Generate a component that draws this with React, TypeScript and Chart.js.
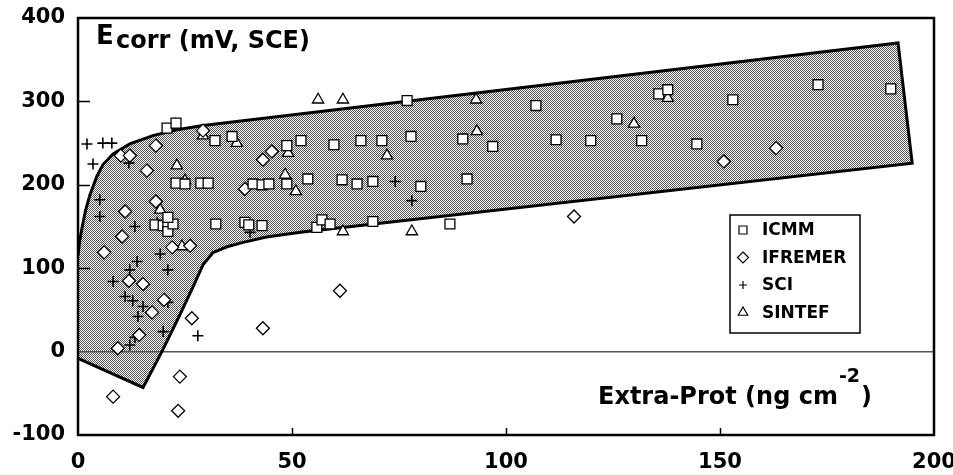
import React, { useEffect, useRef } from 'react';
import { Chart, registerables } from 'chart.js';
Chart.register(...registerables);

const FONT = '"DejaVu Sans", "Liberation Sans", sans-serif';

// Axis ticks
const xTickValues = [0, 50, 100, 150, 200];
const yTickValues = [-100, 0, 100, 200, 300, 400];
const xInnerTicks = [50, 100, 150];
const yInnerTicks = [100, 200, 300];

// Series labels
const seriesLabels = ['ICMM', 'IFREMER', 'SCI', 'SINTEF'];

// ICMM (squares)
const icmmX = [20.8, 22.9, 22.9, 25.0, 28.7, 30.4, 32.0, 36.0, 40.9, 43.0, 44.6, 48.8, 48.8, 52.1, 53.7, 59.8, 61.7, 65.2, 66.1, 68.9, 71.0, 76.9, 77.8, 80.1, 89.9, 90.9, 96.9, 107.0, 111.7, 119.8, 125.9, 131.7, 135.7, 137.8, 144.6, 153.0, 172.9, 189.9, 18.0, 19.9, 21.0, 21.0, 22.2, 21.0, 32.2, 39.0, 39.9, 43.0, 55.8, 57.0, 58.9, 68.9, 86.9];
const icmmY = [268, 274, 202, 201, 202, 202, 253, 258, 201, 200, 201, 247, 201, 253, 207, 248, 206, 201, 253, 204, 253, 301, 258, 198, 255, 207, 246, 295, 254, 253, 279, 253, 309, 314, 249, 302, 320, 315, 152, 151, 152, 144, 153, 161, 153, 155, 152, 151, 149, 158, 153, 156, 153];

// IFREMER (diamonds)
const ifremerX = [10.0, 12.1, 18.2, 16.1, 29.2, 43.2, 45.3, 39.0, 18.2, 11.0, 10.3, 6.1, 22.0, 26.2, 11.9, 15.2, 20.1, 17.3, 14.3, 9.3, 26.6, 43.2, 23.8, 8.2, 23.4, 61.2, 115.9, 150.9, 163.1];
const ifremerY = [235, 235, 247, 217, 265, 230, 240, 195, 180, 168, 138, 119, 125, 127, 85, 81, 62, 47, 20, 4, 40, 28, -30, -54, -71, 73, 162, 228, 244];

// SCI (plus)
const sciX = [2.1, 5.8, 7.9, 3.5, 11.9, 5.1, 5.1, 11.0, 13.3, 18.5, 40.2, 19.2, 13.8, 12.1, 21.0, 8.2, 11.0, 12.8, 15.2, 14.0, 21.0, 19.9, 13.3, 12.1, 9.3, 28.0, 74.1, 78.0];
const sciY = [249, 250, 250, 225, 226, 182, 162, 168, 150, 155, 143, 117, 108, 98, 98, 84, 66, 61, 54, 42, 59, 24, 17, 8, 4, 19, 204, 181];

// SINTEF (triangles)
const sintefX = [22.7, 23.1, 25.0, 29.2, 37.1, 19.2, 24.3, 49.1, 48.4, 50.9, 56.1, 61.9, 72.2, 61.9, 78.0, 93.0, 93.2, 129.9, 137.8];
const sintefY = [272, 223, 205, 259, 250, 170, 126, 238, 212, 192, 302, 302, 235, 144, 144, 302, 264, 273, 304];

// Shaded band outline: upper edge (left to right), then lower edge (right to left)
const bandUpperX = [0, 0.4, 1, 1.8, 2.8, 4.4, 5.8, 8.2, 12.1, 17.5, 23.1, 29.2, 191.6];
const bandUpperY = [115, 133, 150, 170, 188, 210, 224, 237, 249, 259, 266, 271, 370];
const bandLowerX = [194.9, 52, 44, 38.6, 34.8, 31.5, 29.2, 26.9, 23.8, 19.6, 15.2, 0];
const bandLowerY = [226, 143, 137.5, 131, 125.7, 118.6, 104, 78, 44, 0, -43, -8];

const zip = (xs: number[], ys: number[]) => xs.map((x, i) => ({ x, y: ys[i] }));

const legendStyles = ['rect', 'rectRot', 'cross', 'triangle'];

function drawSymbol(ctx: CanvasRenderingContext2D, style: string, cx: number, cy: number) {
  ctx.save();
  ctx.fillStyle = '#fff';
  ctx.strokeStyle = '#000';
  ctx.lineWidth = 1.2;
  ctx.beginPath();
  if (style === 'rect') {
    ctx.rect(cx - 4, cy - 4, 8, 8);
    ctx.fill();
    ctx.stroke();
  } else if (style === 'rectRot') {
    const r = 5.5;
    ctx.moveTo(cx, cy - r);
    ctx.lineTo(cx + r, cy);
    ctx.lineTo(cx, cy + r);
    ctx.lineTo(cx - r, cy);
    ctx.closePath();
    ctx.fill();
    ctx.stroke();
  } else if (style === 'cross') {
    ctx.moveTo(cx - 4, cy);
    ctx.lineTo(cx + 4, cy);
    ctx.moveTo(cx, cy - 4);
    ctx.lineTo(cx, cy + 4);
    ctx.stroke();
  } else {
    const r = 5.5;
    ctx.moveTo(cx, cy - r);
    ctx.lineTo(cx + r * 0.866, cy + r * 0.5);
    ctx.lineTo(cx - r * 0.866, cy + r * 0.5);
    ctx.closePath();
    ctx.fill();
    ctx.stroke();
  }
  ctx.restore();
}

const overlayPlugin = {
  id: 'overlay',
  afterDraw(chart: any) {
    const { ctx, chartArea: a, scales } = chart;
    const xs = scales.x;
    const ys = scales.y;
    ctx.save();
    // inner tick marks
    ctx.strokeStyle = '#000';
    ctx.lineWidth = 1.5;
    ctx.beginPath();
    for (const v of yInnerTicks) {
      const py = Math.round(ys.getPixelForValue(v)) + 0.5;
      ctx.moveTo(a.left, py);
      ctx.lineTo(a.left + 12, py);
    }
    for (const v of xInnerTicks) {
      const px = Math.round(xs.getPixelForValue(v)) + 0.5;
      ctx.moveTo(px, a.bottom);
      ctx.lineTo(px, a.bottom - 7);
    }
    ctx.stroke();
    // frame
    ctx.lineWidth = 2.5;
    ctx.strokeRect(a.left, a.top, a.right - a.left, a.bottom - a.top);

    // y title inside plot
    ctx.fillStyle = '#000';
    ctx.textAlign = 'left';
    ctx.textBaseline = 'alphabetic';
    ctx.font = `bold 26px ${FONT}`;
    ctx.fillText('E', a.left + 18, a.top + 26);
    ctx.font = `bold 24px ${FONT}`;
    ctx.fillText('corr (mV, SCE)', a.left + 38, a.top + 30);

    // x title inside plot
    let tx = a.right - 336;
    const by = a.top + 386;
    const main = 'Extra-Prot (ng cm';
    ctx.font = `bold 24px ${FONT}`;
    ctx.fillText(main, tx, by);
    tx += ctx.measureText(main).width + 1;
    ctx.font = `bold 19px ${FONT}`;
    ctx.fillText('-2', tx, by - 22);
    tx += ctx.measureText('-2').width + 1;
    ctx.font = `bold 24px ${FONT}`;
    ctx.fillText(')', tx, by);

    // legend
    const lx = a.right - 204;
    const ly = a.top + 197;
    ctx.fillStyle = '#fff';
    ctx.fillRect(lx, ly, 130, 118);
    ctx.strokeStyle = '#000';
    ctx.lineWidth = 1.5;
    ctx.strokeRect(lx, ly, 130, 118);
    ctx.font = `bold 17px ${FONT}`;
    ctx.textBaseline = 'middle';
    seriesLabels.forEach((lab, i) => {
      const cy = ly + 15 + i * 27.5;
      drawSymbol(ctx, legendStyles[i], lx + 13, cy);
      ctx.fillStyle = '#000';
      ctx.fillText(lab, lx + 32, cy + 1);
    });
    ctx.restore();
  },
};

export default function App() {
  const canvasRef = useRef<HTMLCanvasElement | null>(null);

  useEffect(() => {
    const canvas = canvasRef.current;
    if (!canvas) return;
    const ctx = canvas.getContext('2d')!;

    const pc = document.createElement('canvas');
    pc.width = 2;
    pc.height = 2;
    const pctx = pc.getContext('2d')!;
    pctx.fillStyle = '#555';
    pctx.fillRect(0, 0, 1, 1);
    pctx.fillRect(1, 1, 1, 1);
    const pattern = ctx.createPattern(pc, 'repeat');

    const pointBase = {
      backgroundColor: '#fff',
      borderColor: '#000',
      borderWidth: 1.3,
      pointBackgroundColor: '#fff',
      pointBorderColor: '#000',
      pointBorderWidth: 1.3,
      order: 0,
    };

    const band = [...zip(bandUpperX, bandUpperY), ...zip(bandLowerX, bandLowerY)];

    const chart = new Chart(ctx, {
      type: 'scatter',
      data: {
        datasets: [
          { ...pointBase, label: seriesLabels[0], data: zip(icmmX, icmmY), pointStyle: 'rect', pointRadius: 7, pointHoverRadius: 7 },
          { ...pointBase, label: seriesLabels[1], data: zip(ifremerX, ifremerY), pointStyle: 'rectRot', pointRadius: 6.5, pointHoverRadius: 6.5 },
          { ...pointBase, label: seriesLabels[2], data: zip(sciX, sciY), pointStyle: 'cross', pointRadius: 5.5, pointHoverRadius: 5.5, pointBorderWidth: 1.6, borderWidth: 1.6 },
          { ...pointBase, label: seriesLabels[3], data: zip(sintefX, sintefY), pointStyle: 'triangle', pointRadius: 6.5, pointHoverRadius: 6.5 },
          {
            type: 'line',
            label: 'band',
            data: band,
            fill: 'shape',
            backgroundColor: pattern as any,
            borderColor: '#000',
            borderWidth: 3,
            pointRadius: 0,
            pointHoverRadius: 0,
            tension: 0,
            order: 10,
          } as any,
        ],
      },
      options: {
        animation: false,
        responsive: true,
        maintainAspectRatio: false,
        events: [],
        layout: { padding: { top: 18, right: 19, left: 0, bottom: 0 } },
        plugins: {
          legend: { display: false },
          tooltip: { enabled: false },
        },
        scales: {
          x: {
            type: 'linear',
            min: 0,
            max: 200,
            afterBuildTicks: (s: any) => { s.ticks = xTickValues.map((v) => ({ value: v })); },
            ticks: {
              color: '#000',
              padding: 15,
              maxRotation: 0,
              font: { family: FONT, size: 21, weight: 'bold' },
            },
            grid: { display: false, drawTicks: false },
            border: { display: false },
            afterFit: (s: any) => { s.height = 40; s.paddingLeft = 0; s.paddingRight = 0; },
          },
          y: {
            type: 'linear',
            min: -100,
            max: 400,
            afterBuildTicks: (s: any) => { s.ticks = yTickValues.map((v) => ({ value: v })); },
            ticks: {
              color: '#000',
              padding: 13,
              font: { family: FONT, size: 21, weight: 'bold' },
            },
            grid: {
              drawTicks: false,
              lineWidth: 1.5,
              color: (c: any) => (c.tick && c.tick.value === 0 ? '#555' : 'rgba(0,0,0,0)'),
            },
            border: { display: false },
            afterFit: (s: any) => { s.width = 78; s.paddingTop = 0; s.paddingBottom = 0; },
          },
        },
      },
      plugins: [overlayPlugin],
    } as any);

    return () => chart.destroy();
  }, []);

  return (
    <div style={{ position: 'fixed', left: 0, top: 0, width: 953, height: 475, background: '#fff' }}>
      <canvas ref={canvasRef} />
    </div>
  );
}
